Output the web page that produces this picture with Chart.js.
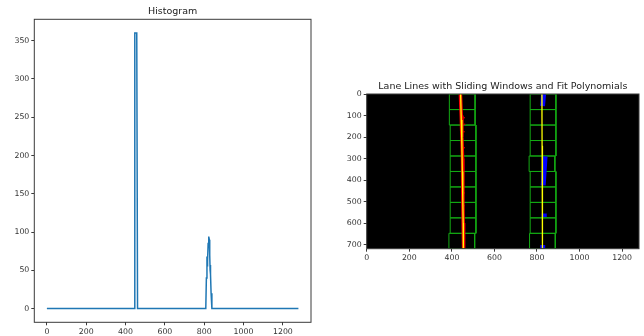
<!DOCTYPE html>
<html>
<head>
<meta charset="utf-8">
<script src="https://cdn.jsdelivr.net/npm/chart.js@4.4.1/dist/chart.umd.min.js"></script>
<style>
  html, body { margin: 0; padding: 0; background: #fff; overflow: hidden; }
  #hist { position: absolute; left: 0; top: 0; }
  #lanes { position: absolute; left: 330px; top: 0; }
</style>
</head>
<body>
<canvas id="hist" width="330" height="336"></canvas>
<canvas id="lanes" width="314" height="336"></canvas>
<script>
// histogram of the bottom half (column sums), key points
const histX = [0, 443, 447, 457, 461, 808, 811, 814, 815, 817, 820, 823, 826, 828, 830, 831, 833, 835, 839, 1279];
const histY = [0, 0, 360, 360, 0, 0, 40, 68, 56, 62, 85, 94, 90, 70, 50, 57, 45, 20, 0, 0];
const histXTicks = [0, 200, 400, 600, 800, 1000, 1200];
const histYTicks = [0, 50, 100, 150, 200, 250, 300, 350];

// sliding windows (10 windows, 72 px tall), lower-left x of each window, top to bottom
const winTop = [0, 72, 144, 216, 288, 360, 432, 504, 576, 648];
const winH = 72;
const winW = 121;
const leftWinX = [388, 388, 392, 392, 392, 392, 392, 392, 392, 386];
const rightWinX = [768, 768, 768, 768, 763, 768, 768, 768, 768, 765];

// lane pixels
const leftPixX = [440, 444, 447, 450, 451, 452, 453, 455];
const leftPixY = [0, 100, 200, 300, 400, 500, 600, 719];
const leftStrayX = [458, 460, 457, 458, 457, 456];
const leftStrayY = [110, 140, 175, 250, 460, 520];
const rightPixX = [831, 826, null, 838, 834, 829, null, 834, 834, null, 827, 827];
const rightPixY = [0, 55, null, 290, 350, 425, null, 556, 572, null, 702, 719];

// fitted polynomials, sampled
const fitY = [0, 120, 240, 360, 480, 600, 719];
const leftFitX = [441, 444, 447, 449, 451, 453, 454];
const rightFitX = [823, 823.5, 824, 824.5, 825, 826, 827];

const imgXTicks = [0, 200, 400, 600, 800, 1000, 1200];
const imgYTicks = [0, 100, 200, 300, 400, 500, 600, 700];

Chart.defaults.font.family = 'DejaVu Sans';
Chart.defaults.animation = false;

const pts = (xs, ys) => xs.map((x, i) => ({ x: x === null ? 0 : x, y: ys[i] }));

const axesPlugin = {
  id: 'axesFrame',
  beforeDatasetsDraw(chart, args, opts) {
    const a = chart.chartArea, ctx = chart.ctx;
    if (opts.fill) {
      ctx.save();
      ctx.fillStyle = opts.fill;
      ctx.fillRect(a.left, a.top, a.right - a.left, a.bottom - a.top);
      ctx.restore();
    }
  },
  afterDraw(chart, args, opts) {
    const a = chart.chartArea, ctx = chart.ctx;
    ctx.save();
    ctx.strokeStyle = '#3a3a3a';
    ctx.lineWidth = 1;
    ctx.strokeRect(a.left, a.top, a.right - a.left, a.bottom - a.top);
    ctx.fillStyle = '#222';
    ctx.font = '9.5px "DejaVu Sans"';
    ctx.textAlign = 'center';
    ctx.textBaseline = 'alphabetic';
    ctx.fillText(opts.title, (a.left + a.right) / 2, a.top - 5.3);
    ctx.restore();
  }
};

function axis(min, max, ticks, size, isX, reverse) {
  return {
    type: 'linear',
    min: min,
    max: max,
    reverse: !!reverse,
    grid: { display: true, drawOnChartArea: false, drawTicks: true, tickLength: 3, color: '#3a3a3a' },
    border: { display: false },
    ticks: {
      autoSkip: false, maxRotation: 0, padding: 2,
      font: { size: 7.8 }, color: '#333',
      callback: v => String(v)
    },
    afterBuildTicks: s => { s.ticks = ticks.map(v => ({ value: v })); },
    afterFit: s => { if (isX) s.height = size; else s.width = size; }
  };
}

new Chart(document.getElementById('hist'), {
  type: 'line',
  data: {
    datasets: [{
      data: pts(histX, histY),
      borderColor: '#1f77b4',
      borderWidth: 1.5,
      pointRadius: 0,
      tension: 0
    }]
  },
  options: {
    responsive: false,
    layout: { padding: { left: 0, right: 19, top: 19.3, bottom: 0 } },
    plugins: {
      legend: { display: false },
      tooltip: { enabled: false },
      axesFrame: { title: 'Histogram' }
    },
    scales: {
      x: axis(-64, 1343, histXTicks, 13.7, true),
      y: axis(-18, 378, histYTicks, 34.3, false)
    }
  },
  plugins: [axesPlugin]
});

const laneSets = [
  { data: pts(leftFitX, fitY), borderColor: 'rgb(255,255,0)', borderWidth: 1.3 },
  { data: pts(rightFitX, fitY), borderColor: 'rgb(255,255,0)', borderWidth: 1.3 },
  { data: pts(leftPixX, leftPixY), borderColor: 'rgb(255,0,0)', borderWidth: 3.5 },
  { type: 'scatter', data: pts(leftStrayX, leftStrayY), backgroundColor: 'rgb(230,0,0)', pointRadius: 0.8, showLine: false },
  { data: pts(rightPixX, rightPixY), borderColor: 'rgb(0,0,255)', borderWidth: 5, spanGaps: false }
];
winTop.forEach((y0, i) => {
  [leftWinX[i], rightWinX[i]].forEach(x0 => {
    laneSets.push({
      data: pts([x0, x0 + winW, x0 + winW, x0, x0], [y0, y0, y0 + winH, y0 + winH, y0]),
      borderColor: 'rgb(20,170,20)',
      borderWidth: 1
    });
  });
});
laneSets.forEach(d => { d.pointRadius = d.pointRadius || 0; d.tension = 0; });

new Chart(document.getElementById('lanes'), {
  type: 'line',
  data: { datasets: laneSets },
  options: {
    responsive: false,
    layout: { padding: { left: 0, right: 2, top: 94, bottom: 0 } },
    plugins: {
      legend: { display: false },
      tooltip: { enabled: false },
      axesFrame: { title: 'Lane Lines with Sliding Windows and Fit Polynomials', fill: '#000' }
    },
    scales: {
      x: axis(-0.5, 1279.5, imgXTicks, 87.3, true),
      y: axis(-0.5, 719.5, imgYTicks, 36.7, false, true)
    }
  },
  plugins: [axesPlugin]
});
</script>
</body>
</html>
